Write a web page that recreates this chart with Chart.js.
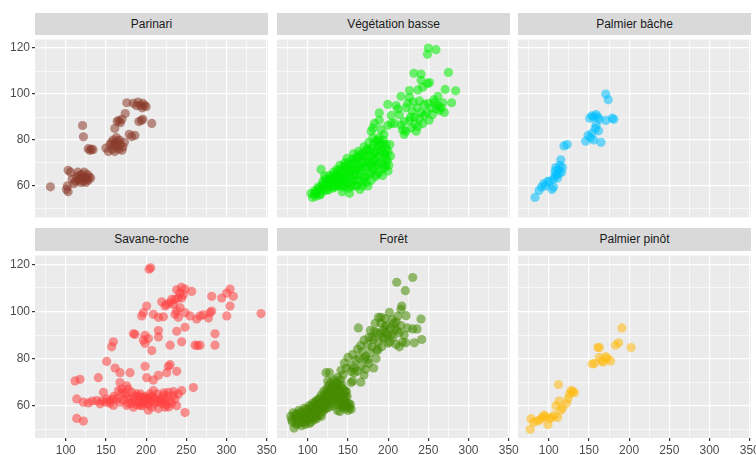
<!DOCTYPE html>
<html>
<head>
<meta charset="utf-8">
<script src="https://cdn.jsdelivr.net/npm/chart.js@4.4.1/dist/chart.umd.min.js"></script>
<style>
  body { margin: 0; background: #fff; width: 756px; height: 455px; position: relative; overflow: hidden;
         font-family: "Liberation Sans", Arial, sans-serif; }
  .strip { position: absolute; background: #D9D9D9; color: #1A1A1A; font-size: 12px; text-align: center; }
  canvas { position: absolute; }
</style>
</head>
<body>
<script>
// facet names, in ggplot order (row by row)
var panelNames = ['Parinari', 'Végétation basse', 'Palmier bâche', 'Savane-roche', 'Forêt', 'Palmier pinôt'];

// axis ticks
var xLabels = [100, 150, 200, 250, 300, 350];
var xMinor = [75, 125, 175, 225, 275, 325];
var yLabels = [60, 80, 100, 120];
var yMinor = [50, 70, 90, 110];

// points, [x, y]
var parinari = [[81,59.6],[101,58.5],[102,60],[103,57.5],[103,66.8],[106,66],[108,63],[110,61],[112,62],[114,64],
  [115,66],[116,62.5],[117,64.5],[118,63],[119,61.5],[120,65],[121,63.5],[122,62],[123,66],[124,64],[125,61.5],
  [126,63],[127,65],[128,62.5],[129,64],[131,63.5],[121,86.3],[122,81.4],[128,76.2],[130,75.5],[132,76],[134,75.8],
  [150,76.5],[153,75],[155,78],[157,79],[158,76],[159,80],[160,77.5],[161,75],[162,78.5],[163,81],[164,77],
  [165,79.5],[166,76],[167,80],[168,78],[170,75.5],[171,77],[173,79],[161,85],[164,88],[166,88.5],[168,87.5],
  [170,89],[174,91.5],[176,96.2],[179,82.5],[182,81.5],[186,82],[184,96],[188,95],[190,96.5],[193,95],[195,94],
  [196,96],[198,95],[200,94.5],[191,88],[194,88.5],[196,89],[207,87.2]];

var vegetation = [[104,56.8],[106,55],[108,56.5],[109,58],[110,55.5],[112,57.5],[114,59],[115,56],[117,58.5],
  [116.6,67.2],[119,62],[120,60],[121,64.4],[123,61],[124,58],[125,62.3],[126,60],[127,64.5],[129,63],[130,61],
  [131,59],[132,66],[133,64.4],[134,62],[135,60],[136,67],[137,63.7],[138,65.5],[139,61.5],[140,69],[141,60.3],
  [142,64],[143,57.5],[144,66.5],[145,62],[146,70],[147,68],[148,64.5],[149,72],[150,61],[151,66],[152,56.8],
  [153,69.5],[154,63],[155,71.5],[156,67],[157,74],[158,60],[159,65],[160,70.5],[161,62.5],[162,68],[163,75],
  [164,72.5],[165,58.5],[166,66],[167,70],[168,73.5],[169,62],[170,77],[171,68.5],[172,64],[173,75.5],[174,71],
  [175,60],[176,79],[177,73],[178,66],[179,70],[180,76.5],[181,81],[182,68],[183,74],[184,72],[185,79.6],[186,65],
  [187,77],[188,70],[189,81],[190,75],[191,84.5],[192,67.5],[193,78.3],[194,72],[195,82.4],[196,74],[197,69],
  [198,76],[199,71],[200,66.5],[203,73],[179,83.8],[181,85.2],[183,87.2],[189,88.6],[189,91.8],[199.6,95.5],
  [199.6,86.3],[204,87.2],[204,90.7],[208,87.2],
  [111,57],[113,59.5],[116,56.5],[118,60.5],[120,58],[122,63],[124,60.5],[126,58.5],[128,61.5],[130,64],[131,62],
  [133,59.5],[135,63],[136,65],[138,60],[139,67],[141,62.5],[142,66],[144,59.5],[145,68.5],[146,64],[148,62],
  [149,67],[150,70],[151,59],[152,64],[153,66.5],[154,60],[155,68],[156,62],[157,70],[158,64.5],[159,72],[160,67],
  [161,60],[162,72.5],[163,65],[164,69],[165,62],[166,74],[167,67.5],[168,60],[169,71],[170,64],[171,73],[172,68],
  [173,61.5],[174,76],[175,70],[176,65],[177,75],[178,69],[179,62.5],[180,73],[181,67],[182,78],[183,71],[184,64],
  [185,75],[186,69],[187,80],[188,73],[189,66],[190,78],[191,70],[192,76],[193,64.5],[194,80],[195,74],[196,68],
  [197,78],[198,72],[200,75],[201,69],[202,78],[144,64],[147,60],[137,61],[132,63.5],[127,62],
  [226.5,101.5],[216,99],[226.5,98.6],[237,101.8],[243,103],[249,104.5],[232,109],[241,108.7],[251.5,105],
  [241,106],[250,120],[259.5,119.3],[249,117.3],[275,109.4],[271,102],[284,101.4],[279,96.2],[262,99],[258,96.2],
  [268,96.2],[270,92],[264,92.8],[212,93.5],[222,94],[224.5,96],[231,96.5],[239,97],[245,95.5],[253.5,94],
  [262,95],[216,86.5],[220,88],[226.5,88.6],[233,90],[239,89.3],[245,90.7],[251,88.6],[243,87.2],[218,84.5],
  [220,82.4],[235,83.8],[237,85.9],[228.6,85.2],[222,83.8],[248,92],[255,91],[260,93.5],[230,92.5],[236,94],
  [214,91],[210,95],[257,97.5],[266,94],[250,96],[241,92],[228,90],[233,87]];

var palmierBache = [[83,55],[88,58],[91,59.5],[94,61],[96,60],[99,62],[101,62],[104,58.5],[106,59.5],[106,63],
  [108,64.5],[108,66.5],[109,68],[110,65],[111,63.5],[112,67],[113,65.5],[114,69],[116,66],[117,68],[115,71.4],
  [119,77.4],[123,78],[146,79.5],[149,82],[152,81],[154,83],[156,80],[158,85],[159,86.5],[162,84],[165,79],
  [151,89.5],[154,90.5],[156,90],[159,91],[161,90],[163,89],[171,88.5],[179,89.5],[181,89],[171,100],[174,97.5]];

var savane = [[205.7,118.5],[203.7,117.9],[238,109.2],[244,110.2],[248.4,109.5],[242,107.8],[246.4,107.1],
  [240,105.7],[236,105.1],[244.3,105.7],[304.4,109.5],[308.5,106.4],[300.3,107.8],[294,105.7],[281.6,106.4],
  [256.7,108.5],[304.4,102.3],[300.3,98.1],[200.7,102.3],[196.6,99.5],[194.5,98.1],[209,98.8],[215.3,97.5],
  [221.5,97.7],[219.4,104.1],[225.6,103],[223.6,102.3],[229.8,103.7],[231.8,105.1],[233.9,103],[238.1,100.2],
  [242.2,101.6],[236,98.8],[240.1,97.5],[248.4,99.5],[254.6,98.1],[262.9,96.8],[267.1,98.1],[271.2,98.6],
  [277.5,97.2],[279.5,99.5],[281.6,100.2],[343,99.1],[159.3,87.1],[157.2,85],[184.2,90.5],[186.2,90.3],
  [198.7,89.9],[196.6,87.8],[202.8,88.5],[198.7,86.4],[207,83.4],[215.3,89.2],[215.3,91.9],[229.8,85.7],
  [238.1,91.6],[244.3,87.1],[248.4,93.3],[260.9,85.7],[267.1,85.7],[285.7,90.5],[285.7,85.7],[264,85.5],
  [151,78.8],[161.4,76],[167.6,74],[180,74],[198.7,76.7],[200.7,71.9],[209,70.9],[215.3,72.9],[225.6,74],
  [227.7,76.7],[229.8,77.4],[238.1,74.6],[117.8,71.2],[140.6,71.9],[167.6,69.8],[175.9,68.4],[111.6,70.5],
  [113.7,62.9],[122,61.5],[128.2,61.2],[138.6,62.2],[142.7,60.8],[146.9,65.7],[151,62.9],[155.1,62.2],
  [159.3,62.9],[165.5,66.4],[169.7,67],[173.8,65],[177.9,67],[182.1,65.7],[188.3,65],[192.5,63.6],[198.7,62.9],
  [204.9,65],[209,66.4],[213.2,62.2],[221.5,64.3],[227.7,65.7],[233.9,64.3],[240.1,65],[244.3,66.4],[258.8,67.7],
  [223.6,59.4],[215.3,58.8],[207,59.4],[192.5,60.1],[184.2,59.4],[175.9,60.1],[167.6,61.5],[159.3,60.1],
  [202.8,58.1],[113.7,54.6],[122,53.5],[248.4,57.1],[231.8,60.8],[236,62.9],[186,62],[190,64],[194,61],
  [196,63.5],[200,61],[202,63],[206,62],[210,61],[218,63],[220,61],[224,62.5],[226,64],[228,59.5],[180,63],
  [178,61],[171,62.5],[164,63],[145,62],[133,62],
  [182,61],[185,64],[188,60.5],[191,62],[193,65],[195,60],[197,61.5],[199,64],[201,62.5],[203,60.5],[205,63.5],
  [208,64],[211,63],[214,65],[216,61.5],[219,62],[222,65.5],[225,60.5],[230,62],[234,66],[238,60],[160,64],
  [155,61],[150,61.5],[176,63.5],[170,65.5]];

var foret = [[79,55.5],[81,53],[82,57],[83,50.5],[85,54],[87,56.5],[88,52.5],[89,58],[90,55],[92,53],[93,57.5],
  [95,54.5],[96,59],[97,52],[98,56],[100,58],[101,54],[102,60],[103,56.5],[104,53],[105,58.5],[106,61],[107,55],
  [108,57.5],[109,59.5],[110,62],[111,54.5],[112,58],[113,60.5],[114,63],[115,56],[116,61],[117,64.5],[118,58.5],
  [119,62],[120,66],[121,60],[122,63.5],[123,67],[124,61],[125,65],[126,68.5],[127,62.5],[128,66],[129,70],
  [130,64],[131,67.5],[132,60],[133,71],[134,65],[135,68],[136,62.5],[137,72],[138,66],[139,69],[140,64],[141,71],
  [142,60.5],[143,67],[144,73],[145,63.5],[146,58.8],[147,66],[148,61],[149,64],[150,58],[152,59],[154,58.5],
  [122.8,74],[127,74],[124.9,70.5],[137,58],[140,57.5],[143,59.5],
  [80,54],[84,56],[86,52],[88,55],[91,57],[92,51.5],[94,55.5],[96,53],[98,58.5],[99,54.5],[101,56.5],[102,52.5],
  [104,59.5],[105,55],[106,57],[108,54],[109,61],[110,57],[111,59],[112,55.5],[113,62.5],[114,58],[116,59],
  [117,55.5],[118,62],[119,57.5],[120,64],[121,58.5],[122,61],[123,65],[124,59],[125,62],[126,66.5],[127,59.5],
  [128,63.5],[129,67.5],[130,61],[131,65],[132,69],[133,62],[134,67],[135,64],[136,70],[137,60.5],[138,68],
  [139,63],[140,66.5],[141,61],[142,69],[143,64.5],[144,60],[145,67],[146,62],[147,64],[148,66],[149,60],
  [151,61],[153,60.5],
  [141.5,75],[145.6,78.1],[148,76],[150,80.5],[153.9,74.5],[155,77],[158,76],[160,79.5],[156,81.7],[162,84],
  [164,80],[166,85.5],[168,83],[170,87.8],[172,81],[174.6,86],[176,89],[178,82.5],[180,85],[182,88],[183,91.5],
  [185,80],[187,83.5],[188,87],[190,90.6],[191,95],[192,85],[194,92],[195,88.5],[196,97],[198,94],[199.5,90],
  [200,86.5],[201.6,99.6],[203,93],[205,96.5],[206,89],[208,92.5],[210,95.5],[212,98],[214,91],[216,94],
  [217,102.3],[216,100.9],[218,87],[220,90],[222,86.7],[224,93],[222.3,98.2],[230.6,92.6],[236,92.6],
  [240.9,96.8],[241.8,88.1],[232.6,86.7],[163,93],[191.2,97.5],[210.7,112.4],[221.4,108.8],[230.6,114.4],
  [182,76],[176,78],[170,73],[166,70],[172,75.5],[186,84],[178,92],[184,95],[188,97.5],[202,87],[210,86],[214,85],
  [156,70.5],[153.9,69.8],[158,74],[162,74.7],[170.5,80],[174.6,79.5],[166.3,76.7],
  [193,89],[197,91],[204,90],[207,95],[211,92],[196,93.5],[186,91],[180,89]];

var palmierPinot = [[77,50],[78,54.5],[81,53],[86,53.5],[89,54],[92,55],[94,56],[96,55.5],[99,52],[101,54.5],
  [104,55],[107,56],[109,60],[111,55],[113,62],[115,58],[117,59],[112,69],[122,61],[124,63],[126,65],[128,66.5],
  [130,66],[132,65.5],[154,77.7],[157,78],[163,80.5],[166,79],[168,78.5],[171,80.8],[173,80],[177,79],[161,84.7],
  [163,84.7],[183,85.7],[187,86.7],[191,93],[202.5,84.7]];

var seriesPts = [parinari, vegetation, palmierBache, savane, foret, palmierPinot];

// styling
var pointColors = ['rgba(139,58,42,0.55)', 'rgba(0,238,0,0.55)', 'rgba(0,191,255,0.55)',
                   'rgba(255,64,64,0.55)', 'rgba(69,139,0,0.55)', 'rgba(255,185,15,0.55)'];
var plotLeft = [35, 277, 518];
var plotTop = [35, 251];
var stripTop = [13, 228];
var stripH = [22, 23];
var plotW = 233, plotH = 187, yAxisW = 35, xAxisH = 17, padRight = 14;

var panelBg = {
  id: 'panelBg',
  beforeDraw: function (chart) {
    var a = chart.chartArea, c = chart.ctx;
    c.save();
    c.fillStyle = '#EBEBEB';
    c.fillRect(a.left, a.top, a.right - a.left, a.bottom - a.top);
    c.restore();
  }
};

function isMajor(list, v) { return list.indexOf(v) !== -1; }

for (var i = 0; i < 6; i++) {
  (function (i) {
    var row = Math.floor(i / 3), col = i % 3;
    var showY = col === 0, showX = row === 1;

    var strip = document.createElement('div');
    strip.className = 'strip';
    strip.style.left = plotLeft[col] + 'px';
    strip.style.top = stripTop[row] + 'px';
    strip.style.width = plotW + 'px';
    strip.style.height = stripH[row] + 'px';
    strip.style.lineHeight = stripH[row] + 'px';
    strip.textContent = panelNames[i];
    document.body.appendChild(strip);

    var cv = document.createElement('canvas');
    var w = yAxisW + plotW + padRight, h = plotH + (showX ? xAxisH : 0);
    cv.width = w; cv.height = h;
    cv.style.width = w + 'px'; cv.style.height = h + 'px';
    cv.style.left = (plotLeft[col] - yAxisW) + 'px';
    cv.style.top = plotTop[row] + 'px';
    document.body.appendChild(cv);

    new Chart(cv.getContext('2d'), {
      type: 'scatter',
      data: {
        datasets: [{
          data: seriesPts[i].map(function (p) { return { x: p[0], y: p[1] }; }),
          backgroundColor: pointColors[i],
          borderWidth: 0,
          pointRadius: 4.6,
          pointHoverRadius: 4.6
        }]
      },
      options: {
        responsive: false,
        animation: false,
        events: [],
        layout: { padding: { left: 0, right: padRight, top: 0, bottom: 0 } },
        plugins: { legend: { display: false }, tooltip: { enabled: false } },
        scales: {
          x: {
            type: 'linear', min: 61.8, max: 351.6,
            afterBuildTicks: function (s) {
              s.ticks = xMinor.concat(xLabels).sort(function (a, b) { return a - b; })
                .map(function (v) { return { value: v }; });
            },
            afterFit: function (s) { s.height = showX ? xAxisH : 0; s.paddingLeft = 0; s.paddingRight = 0; },
            border: { display: false },
            grid: {
              color: '#FFFFFF',
              lineWidth: function (c) { return isMajor(xLabels, c.tick.value) ? 1.2 : 0.6; },
              drawTicks: showX,
              tickLength: 3,
              tickColor: function (c) { return isMajor(xLabels, c.tick.value) ? '#333333' : 'rgba(0,0,0,0)'; }
            },
            ticks: {
              display: showX, autoSkip: false, maxRotation: 0, padding: 2,
              color: '#4D4D4D', font: { family: 'Liberation Sans', size: 12 },
              callback: function (v) { return isMajor(xLabels, v) ? String(v) : ''; }
            }
          },
          y: {
            type: 'linear', min: 46.3, max: 123.7,
            afterBuildTicks: function (s) {
              s.ticks = yMinor.concat(yLabels).sort(function (a, b) { return a - b; })
                .map(function (v) { return { value: v }; });
            },
            afterFit: function (s) { s.width = yAxisW; s.paddingTop = 0; s.paddingBottom = 0; },
            border: { display: false },
            grid: {
              color: '#FFFFFF',
              lineWidth: function (c) { return isMajor(yLabels, c.tick.value) ? 1.2 : 0.6; },
              drawTicks: showY,
              tickLength: 3,
              tickColor: function (c) { return isMajor(yLabels, c.tick.value) ? '#333333' : 'rgba(0,0,0,0)'; }
            },
            ticks: {
              display: showY, autoSkip: false, padding: 2,
              color: '#4D4D4D', font: { family: 'Liberation Sans', size: 12 },
              callback: function (v) { return isMajor(yLabels, v) ? String(v) : ''; }
            }
          }
        }
      },
      plugins: [panelBg]
    });
  })(i);
}
</script>
</body>
</html>
